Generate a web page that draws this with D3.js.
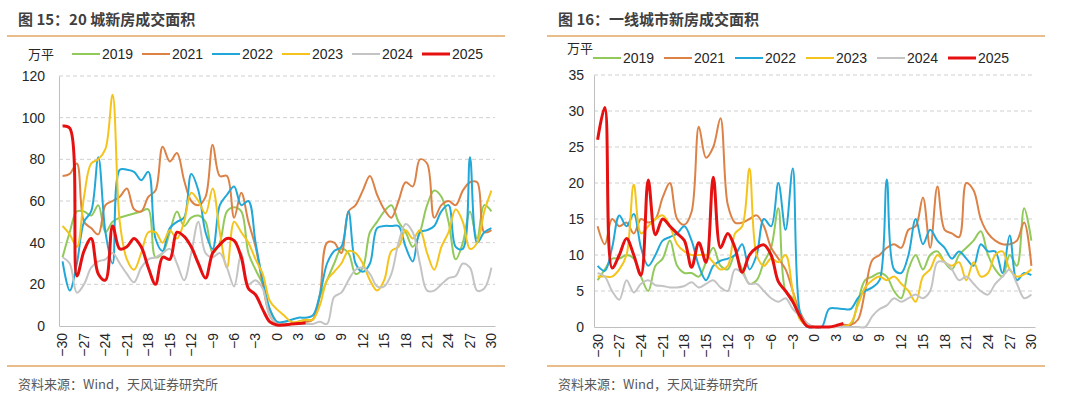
<!DOCTYPE html>
<html>
<head>
<meta charset="utf-8">
<script src="https://cdn.jsdelivr.net/npm/d3@7"></script>
<style>
  body { margin: 0; background: #fff; }
  text { font-family: "Liberation Sans", Arial, sans-serif; fill: #262626; }
  .cjk { font-family: "Noto Sans CJK SC", sans-serif; }
  .title { font-size: 15px; font-weight: bold; fill: #404040; }
  .source { font-size: 13px; fill: #595959; }
</style>
</head>
<body>
<svg id="chart"></svg>
<script>
// days around the holiday, -30 .. 30
const days = d3.range(-30, 31);
const xTicks = [-30, -27, -24, -21, -18, -15, -12, -9, -6, -3, 0, 3, 6, 9, 12, 15, 18, 21, 24, 27, 30];

const years = ['2019', '2021', '2022', '2023', '2024', '2025'];

// 图15: 20城新房成交面积 (万平)
const city20_2019 = [33, 45, 55, 55, 53, 58, 45, 50, 52, 53, 54, 55, 56, 33, 35, 45, 55, 48, 52, 53, 50, 35, 40, 55, 57, 55, 35, 27, 20, 8,
  2, 1, 1, 2, 3, 3, 14, 22, 30, 37, 35, 25, 28, 45, 50, 55, 58, 50, 45, 38, 45, 58, 65, 62, 50, 32, 40, 55, 42, 58, 55];
const city20_2021 = [72, 73, 78, 50, 47, 44, 58, 60, 62, 66, 56, 55, 62, 65, 86, 79, 83, 70, 60, 58, 62, 87, 72, 72, 52, 64, 50, 38, 20, 5,
  1, 1, 1, 2, 2, 3, 15, 40, 40, 35, 55, 58, 65, 72, 63, 56, 52, 60, 69, 67, 80, 78, 52, 58, 60, 58, 65, 69, 69, 45, 46];
const city20_2022 = [31, 17, 30, 50, 55, 81, 45, 30, 75, 75, 74, 70, 74, 42, 36, 47, 50, 52, 73, 65, 45, 37, 58, 63, 67, 58, 60, 40, 22, 8,
  2, 2, 3, 4, 4, 5, 15, 30, 36, 38, 55, 30, 26, 30, 47, 48, 48, 48, 38, 31, 45, 46, 48, 55, 58, 38, 37, 81, 40, 45, 47];
const city20_2023 = [48, 44, 38, 62, 78, 80, 85, 111, 50, 32, 27, 35, 45, 45, 40, 46, 42, 50, 64, 60, 54, 66, 45, 28, 50, 45, 40, 32, 25, 12,
  8, 5, 2, 2, 3, 3, 10, 22, 26, 30, 36, 35, 30, 22, 17, 22, 36, 38, 46, 42, 46, 35, 27, 38, 45, 56, 50, 37, 40, 55, 65];
const city20_2024 = [33, 30, 16, 20, 28, 31, 32, 35, 30, 25, 21, 28, 32, 33, 35, 37, 30, 22, 35, 50, 35, 33, 35, 28, 19, 35, 20, 22, 18, 5,
  1, 1, 1, 1, 1, 1, 2, 1, 14, 16, 22, 27, 28, 25, 19, 19, 25, 40, 49, 45, 30, 17, 17, 20, 23, 24, 30, 28, 17, 18, 28];
const city20_2025 = [96, 95, 24, 36, 42, 25, 22, 48, 37, 38, 42, 38, 28, 20, 33, 32, 45, 43, 38, 30, 23, 35, 39, 42, 41, 33, 18, 15, 8, 2,
  0.5, 0.5, 1, 1.2, 1.5];

// 图16: 一线城市新房成交面积 (万平)
const tier1_2019 = [6.5, 8, 9.5, 9.5, 10, 9.5, 7, 5, 8.5, 9.5, 12, 8.5, 7.5, 7.5, 7, 9, 11, 8.5, 8, 10, 8, 6, 6.5, 9, 11, 16.5, 5, 4, 2, 0.3,
  0, 0, 0, 0, 0, 0.2, 3.5, 6.5, 7, 7.5, 7, 5, 4, 8, 10, 8, 10, 10.5, 9, 8, 10, 11, 12, 13.3, 10, 8, 7, 10, 8.5, 16.5, 12];
const tier1_2021 = [14, 11.5, 15, 14, 14.5, 13, 15, 14.5, 15, 18, 20, 15, 14.2, 16, 27.8, 23.5, 25, 29, 17, 14.5, 14.5, 15, 15.5, 14, 11, 9.5, 8, 5, 2, 0.5,
  0, 0, 0, 0, 0.3, 0.3, 1, 5, 9.3, 10, 11, 11.5, 11, 13.5, 14, 18, 11, 19.5, 13.5, 13, 12.5, 20, 19, 15, 13, 12, 11.5, 11.5, 12, 14.5, 8.5];
const tier1_2022 = [8.5, 7.8, 11, 15.5, 14, 15.7, 11, 8.5, 10, 12, 12.5, 13, 14, 12, 8.5, 6.5, 8.5, 9.2, 9.5, 10, 11.5, 8, 10, 15, 14, 20, 13.5, 22, 2, 0,
  0, 0, 2.5, 2.6, 2.5, 2.5, 4, 5, 5.5, 6.5, 20.5, 8, 7.5, 10, 15, 11.5, 13.5, 12, 11, 9.5, 10.5, 9.5, 8.5, 11.5, 10.5, 10.5, 7.5, 12.7, 6.5, 7.5, 7.2];
const tier1_2023 = [7, 7, 7, 8, 10, 19.8, 13, 14, 15, 15.5, 14, 11.5, 10.5, 10, 10, 10, 9, 8, 8.5, 13, 14, 22, 10, 8.5, 9.5, 9, 10, 5, 1, 0.2,
  0, 0, 0, 0, 0, 0.5, 3, 5.5, 6.5, 7, 6.5, 7, 6, 5, 3.5, 7, 8, 10, 9, 8.5, 9, 6.5, 9, 7, 7.5, 10, 10.5, 8, 7, 7.3, 8];
const tier1_2024 = [7.5, 7, 5, 3.8, 6.5, 4.8, 6, 6.5, 5.8, 5.7, 5.5, 5.5, 5.7, 6.2, 5.5, 6, 6.5, 5.5, 5, 8, 7.5, 6, 6, 5, 4, 3.5, 4, 2.5, 1.5, 0.5,
  0, 0, 0, 0, 0, 0, 0, 0, 1.5, 2.5, 3, 4, 3.5, 4, 4.5, 4, 5, 9, 9, 8, 6.5, 7, 6, 5, 4.5, 6, 7, 8, 6, 4, 4.5];
const tier1_2025 = [26, 30.5, 8.2, 10, 12.3, 10, 7.2, 20.4, 12.8, 15, 14, 13, 12, 8.3, 11.7, 9, 20.8, 11, 13, 11, 7.6, 10, 11, 11.4, 10, 6.3, 5, 3.5, 1.5, 0.1,
  0, 0, 0, 0.2, 0.5];

const city20Ticks = [0, 20, 40, 60, 80, 100, 120];
const tier1Ticks = [0, 5, 10, 15, 20, 25, 30, 35];

const colors = {
  '2019': '#92c95b',
  '2021': '#dc8246',
  '2022': '#22a8d8',
  '2023': '#f5c41c',
  '2024': '#c4c4c4',
  '2025': '#e5100f'
};

const width = 1080;
const height = 403;

const svg = d3.select('#chart')
  .attr('width', width)
  .attr('height', height);

const panels = [
  {
    title: '图 15：20 城新房成交面积',
    series: [city20_2019, city20_2021, city20_2022, city20_2023, city20_2024, city20_2025],
    yTicks: city20Ticks,
    left: 0, ruleL: 7, ruleR: 505,
    plot: { left: 59, right: 495, top: 76, bottom: 326 },
    unit: { x: 28, y: 54 },
    legend: { x: 72, y: 54, step: 70 },
    yLabelX: 45
  },
  {
    title: '图 16：一线城市新房成交面积',
    series: [tier1_2019, tier1_2021, tier1_2022, tier1_2023, tier1_2024, tier1_2025],
    yTicks: tier1Ticks,
    left: 540, ruleL: 547, ruleR: 1045,
    plot: { left: 594, right: 1035, top: 75, bottom: 327 },
    unit: { x: 567, y: 48 },
    legend: { x: 593, y: 58, step: 71 },
    yLabelX: 584
  }
];

panels.forEach(drawPanel);

function drawPanel(p) {
  const g = svg.append('g');

  // title and rules
  g.append('text')
    .attr('class', 'cjk title')
    .attr('x', p.left + 18)
    .attr('y', 25)
    .text(p.title);

  g.append('line')
    .attr('x1', p.ruleL).attr('x2', p.ruleR)
    .attr('y1', 36).attr('y2', 36)
    .attr('stroke', '#e2a763').attr('stroke-width', 1.5);

  g.append('line')
    .attr('x1', p.ruleL).attr('x2', p.ruleR)
    .attr('y1', 366).attr('y2', 366)
    .attr('stroke', '#e2a763').attr('stroke-width', 1.5);

  g.append('text')
    .attr('class', 'cjk source')
    .attr('x', p.left + 18)
    .attr('y', 389)
    .text('资料来源：Wind，天风证券研究所');

  // scales
  const x = d3.scaleBand()
    .domain(days)
    .range([p.plot.left, p.plot.right])
    .padding(0);

  const y = d3.scaleLinear()
    .domain([0, d3.max(p.yTicks)])
    .range([p.plot.bottom, p.plot.top]);

  // grid
  g.append('g')
    .selectAll('line')
    .data(p.yTicks.filter(t => t > 0))
    .enter()
    .append('line')
    .attr('x1', p.plot.left).attr('x2', p.plot.right)
    .attr('y1', d => y(d)).attr('y2', d => y(d))
    .attr('stroke', '#cfcfcf')
    .attr('stroke-dasharray', '4,3');

  // y axis
  const yAxis = d3.axisLeft(y)
    .tickValues(p.yTicks)
    .tickSize(0)
    .tickPadding(0);

  const yGroup = g.append('g')
    .attr('transform', translate(p.plot.left, 0))
    .call(yAxis);
  yGroup.select('.domain').attr('stroke', '#bfbfbf');
  yGroup.selectAll('text')
    .attr('x', p.yLabelX - p.plot.left)
    .attr('font-size', 14)
    .attr('font-family', '"Liberation Sans", Arial, sans-serif')
    .attr('fill', '#262626');

  // x axis
  const xAxis = d3.axisBottom(x)
    .tickValues(xTicks)
    .tickSize(0)
    .tickFormat(d3.format('d'));

  const xGroup = g.append('g')
    .attr('transform', translate(0, p.plot.bottom))
    .call(xAxis);
  xGroup.select('.domain').attr('stroke', '#bfbfbf');
  xGroup.selectAll('text')
    .attr('font-size', 14)
    .attr('font-family', '"Liberation Sans", Arial, sans-serif')
    .attr('fill', '#262626')
    .attr('text-anchor', 'end')
    .attr('transform', 'rotate(-90)')
    .attr('x', -7)
    .attr('y', 0)
    .attr('dy', '0.35em');

  // lines
  const line = d3.line()
    .defined(d => d.v != null)
    .x(d => x(d.day) + x.bandwidth() / 2)
    .y(d => y(d.v))
    .curve(d3.curveCatmullRom.alpha(0.5));

  p.series.forEach((values, i) => {
    const year = years[i];
    const pts = values.map((v, j) => ({ day: days[j], v: v }));
    g.append('path')
      .datum(pts)
      .attr('fill', 'none')
      .attr('stroke', colors[year])
      .attr('stroke-width', year === '2025' ? 3 : 2)
      .attr('stroke-linejoin', 'round')
      .attr('d', line);
  });

  // legend
  g.append('text')
    .attr('class', 'cjk')
    .attr('x', p.unit.x)
    .attr('y', p.unit.y)
    .attr('dy', '0.35em')
    .attr('font-size', 13)
    .text('万平');

  const items = g.append('g')
    .selectAll('g')
    .data(years)
    .enter()
    .append('g')
    .attr('transform', (d, i) => translate(p.legend.x + i * p.legend.step, p.legend.y));

  items.append('line')
    .attr('x1', 0).attr('x2', 28)
    .attr('stroke', d => colors[d])
    .attr('stroke-width', d => d === '2025' ? 3 : 2);

  items.append('text')
    .attr('x', 30)
    .attr('dy', '0.35em')
    .attr('font-size', 14)
    .text(d => d);
}

function translate(x, y) {
  return 'translate(' + String(x) + ',' + String(y) + ')';
}
</script>
</body>
</html>
